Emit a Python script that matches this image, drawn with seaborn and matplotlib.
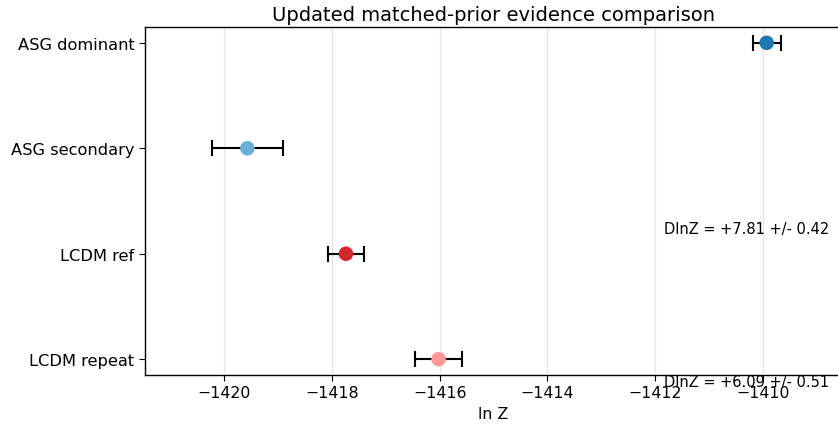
import matplotlib
matplotlib.use("Agg")
import matplotlib.pyplot as plt
import seaborn as sns
import pandas as pd

labels = ["ASG dominant", "ASG secondary", "LCDM ref", "LCDM repeat"]
lnz = [-1409.93, -1419.57, -1417.74, -1416.02]
err = [0.26, 0.66, 0.33, 0.44]
colors = ["#1f77b4", "#6baed6", "#d62728", "#ff9896"]
annotations = ["DlnZ = +7.81 +/- 0.42", "DlnZ = +6.09 +/- 0.51"]
annot_x = [-1411.83, -1411.83]
annot_y = [1.76, 3.21]

df = pd.DataFrame({"label": labels, "lnZ": lnz, "err": err})

sns.set_style("white")
plt.rcParams["font.family"] = ["DejaVu Sans"]
for k in ["text.color", "axes.labelcolor", "xtick.color", "ytick.color"]:
    plt.rcParams[k] = "black"

fig = plt.figure(figsize=(8.38, 4.31), dpi=100)
ax = fig.add_axes([145 / 838, 1 - 376 / 431, (841 - 145) / 838, (376 - 28) / 431])

ypos = list(range(len(labels)))
ax.errorbar(df["lnZ"], ypos, xerr=df["err"], fmt="none", ecolor="black",
            capsize=6, elinewidth=1.5, capthick=1.5, zorder=2)
sns.scatterplot(data=df, x="lnZ", y=ypos, hue="label", palette=colors,
                s=110, edgecolor="none", legend=False, ax=ax, zorder=3)

ax.set_yticks(ypos)
ax.set_yticklabels(labels, fontsize=11.7)
ax.set_ylim(3.15, -0.15)
ax.set_xlim(-1421.47, -1408.55)
ax.set_xticks([-1420, -1418, -1416, -1414, -1412, -1410])
ax.tick_params(axis="x", labelsize=11.3, length=4, width=0.8, bottom=True)
ax.tick_params(axis="y", length=4, width=0.8, left=True)
ax.grid(axis="x", color="#e6e6e6", linewidth=1)
ax.set_axisbelow(True)
ax.set_xlabel("ln Z", fontsize=11.3)
ax.set_ylabel("")
ax.set_title("Updated matched-prior evidence comparison", fontsize=14, pad=5)
for s in ax.spines.values():
    s.set_color("black")
    s.set_linewidth(1)

for t, x, y in zip(annotations, annot_x, annot_y):
    ax.text(x, y, t, fontsize=10.5, ha="left", va="center")

fig.savefig("out.png", dpi=100)
